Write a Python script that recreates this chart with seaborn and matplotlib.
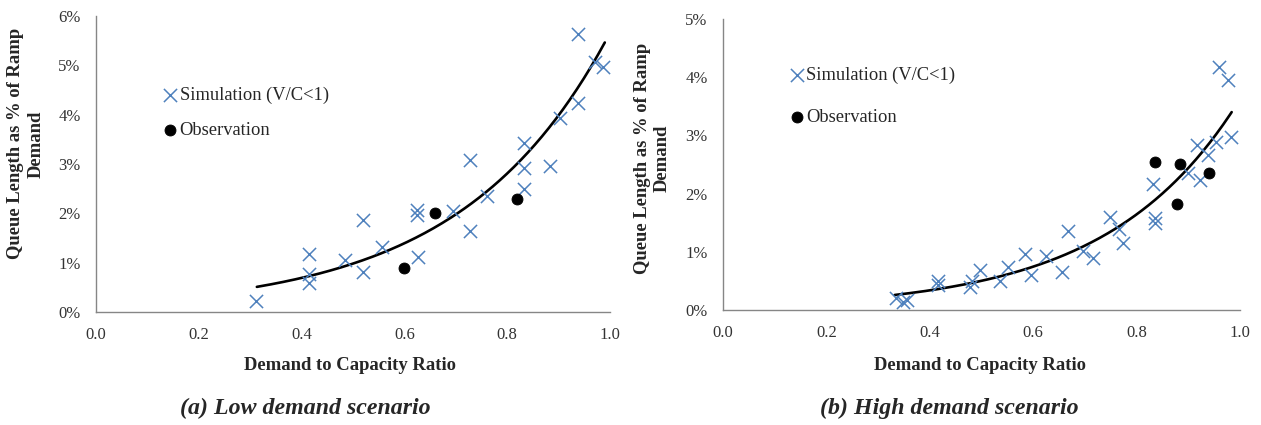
import numpy as np
import pandas as pd
import matplotlib
matplotlib.use("Agg")
import matplotlib.pyplot as plt
import seaborn as sns

# ---- data (x = V/C ratio, y = queue length in %) ----
low_sim_x = [0.311, 0.415, 0.415, 0.415, 0.485, 0.520, 0.520, 0.556, 0.624, 0.624,
             0.626, 0.695, 0.728, 0.728, 0.761, 0.832, 0.832, 0.832, 0.884, 0.902,
             0.937, 0.937, 0.970, 0.987]
low_sim_y = [0.22, 1.18, 0.76, 0.58, 1.06, 1.86, 0.81, 1.31, 2.06, 1.96,
             1.12, 2.05, 3.08, 1.64, 2.35, 3.43, 2.91, 2.50, 2.96, 3.94,
             5.63, 4.24, 5.07, 4.97]
low_obs_x = [0.600, 0.660, 0.819]
low_obs_y = [0.90, 2.00, 2.29]

high_sim_x = [0.334, 0.349, 0.355, 0.415, 0.415, 0.478, 0.482, 0.497, 0.536, 0.552,
              0.585, 0.596, 0.624, 0.655, 0.667, 0.696, 0.715, 0.749, 0.766, 0.774,
              0.832, 0.835, 0.835, 0.899, 0.917, 0.922, 0.938, 0.953, 0.959, 0.977,
              0.983]
high_sim_y = [0.20, 0.14, 0.18, 0.50, 0.43, 0.39, 0.49, 0.68, 0.49, 0.74,
              0.97, 0.60, 0.92, 0.66, 1.36, 1.01, 0.89, 1.60, 1.40, 1.15,
              2.16, 1.58, 1.50, 2.35, 2.84, 2.23, 2.66, 2.89, 4.18, 3.95,
              2.98]
high_obs_x = [0.835, 0.885, 0.879, 0.940]
high_obs_y = [2.55, 2.50, 1.82, 2.35]

# exponential trendlines y = a * exp(b * x)
low_trend = {"a": 0.170, "b": 3.505, "x0": 0.313, "x1": 0.990}
high_trend = {"a": 0.0694, "b": 3.955, "x0": 0.332, "x1": 0.984}

x_ticks = [0.0, 0.2, 0.4, 0.6, 0.8, 1.0]
low_y_ticks = [0, 1, 2, 3, 4, 5, 6]
high_y_ticks = [0, 1, 2, 3, 4, 5]

SIM_LABEL = "Simulation (V/C<1)"
OBS_LABEL = "Observation"
Y_LABEL = "Queue Length as % of Ramp\nDemand"
X_LABEL = "Demand to Capacity Ratio"

BLUE = "#4F81BD"
GRAY = "#868686"

sns.set_theme(style="white")
plt.rcParams["font.family"] = ["Liberation Serif", "DejaVu Serif"]


def draw_panel(ax, sim_x, sim_y, obs_x, obs_y, trend, y_ticks, ylab_pos, leg_pos, leg_space):
    sim = pd.DataFrame({"x": sim_x, "y": sim_y})
    obs = pd.DataFrame({"x": obs_x, "y": obs_y})

    sns.scatterplot(data=sim, x="x", y="y", marker="x", color=BLUE, s=90,
                    linewidth=1.1, label=SIM_LABEL, ax=ax, zorder=3)
    sns.scatterplot(data=obs, x="x", y="y", marker="o", color="black", s=62,
                    edgecolor="black", label=OBS_LABEL, ax=ax, zorder=4)

    tx = np.linspace(trend["x0"], trend["x1"], 200)
    ty = trend["a"] * np.exp(trend["b"] * tx)
    ax.plot(tx, ty, color="black", lw=1.9, zorder=2)

    ax.set_xlim(0, 1)
    ax.set_ylim(y_ticks[0], y_ticks[-1])
    ax.set_xticks(x_ticks)
    ax.set_xticklabels([f"{v:.1f}" for v in x_ticks])
    ax.set_yticks(y_ticks)
    ax.set_yticklabels([f"{v}%" for v in y_ticks])
    ax.tick_params(axis="both", length=0, labelsize=12, colors="#333333")
    ax.tick_params(axis="x", pad=11)
    ax.tick_params(axis="y", pad=11)

    for side in ["top", "right"]:
        ax.spines[side].set_visible(False)
    for side in ["left", "bottom"]:
        ax.spines[side].set_color(GRAY)
        ax.spines[side].set_linewidth(1.0)

    ax.set_xlabel("")
    ax.set_ylabel("")
    ax.text(ylab_pos[0], ylab_pos[1], Y_LABEL, transform=ax.transAxes, rotation=90,
            ha="center", va="center", multialignment="center",
            fontsize=13.4, fontweight="bold", linespacing=1.25)

    ax.legend(loc="center left", bbox_to_anchor=leg_pos, frameon=False,
              fontsize=13.3, handlelength=0.7, handletextpad=0.15,
              labelspacing=leg_space, borderpad=0, borderaxespad=0)


fig = plt.figure(figsize=(12.61, 4.25), dpi=100)
ax_low = fig.add_axes([0.0761, 0.2659, 0.4076, 0.6965])
ax_high = fig.add_axes([0.5734, 0.2706, 0.4099, 0.6847])

draw_panel(ax_low, low_sim_x, low_sim_y, low_obs_x, low_obs_y, low_trend,
           low_y_ticks, (-0.136, 0.568), (0.132, 0.674), 0.97)
draw_panel(ax_high, high_sim_x, high_sim_y, high_obs_x, high_obs_y, high_trend,
           high_y_ticks, (-0.137, 0.522), (0.130, 0.734), 1.38)

# x labels and captions placed in figure pixels (reference layout)
W, H = 1261, 425
fig.text(350 / W, 1 - 365 / H, X_LABEL, ha="center", va="center",
         fontsize=13.4, fontweight="bold")
fig.text(980 / W, 1 - 365 / H, X_LABEL, ha="center", va="center",
         fontsize=13.4, fontweight="bold")
fig.text(305 / W, 1 - 408 / H, "(a) Low demand scenario", ha="center", va="center",
         fontsize=17.2, fontweight="bold", style="italic")
fig.text(949 / W, 1 - 408 / H, "(b) High demand scenario", ha="center", va="center",
         fontsize=17.2, fontweight="bold", style="italic")

fig.savefig("out.png", dpi=100)
